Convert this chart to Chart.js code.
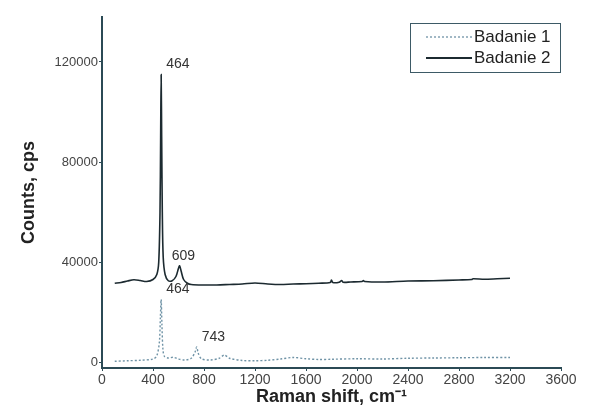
<!DOCTYPE html>
<html>
<head>
<meta charset="utf-8">
<script src="https://cdn.jsdelivr.net/npm/chart.js@4"></script>
<style>
  html, body { margin: 0; padding: 0; background: #fff; }
  #wrap { width: 589px; height: 412px; }
</style>
</head>
<body>
<div id="wrap"><canvas id="widmo"></canvas></div>
<script>
// Badanie 2 (upper, solid)
var x2 = [100, 150, 200, 250, 300, 350, 400, 430, 445, 455, 460, 464, 468, 473, 480, 495, 520, 550, 580, 600, 609, 620, 640, 670, 700,
  800, 900, 1000, 1100, 1200, 1300, 1400, 1500, 1600, 1700, 1790, 1800, 1810, 1860, 1880, 1890, 1950, 2040, 2050, 2060, 2200,
  2400, 2600, 2800, 2900, 2910, 3000, 3100, 3200];
var y2 = [31500, 31800, 32400, 32900, 32600, 32200, 33000, 35000, 40000, 60000, 90000, 115000, 90000, 60000, 42000, 35000, 32500, 32500, 34200, 37500, 38500, 36500, 33000, 31500, 31000,
  30800, 30800, 31000, 31200, 31600, 31200, 31000, 31200, 31300, 31500, 31800, 32800, 31800, 31900, 32600, 31900, 32000, 32200, 32600, 32200, 32000,
  32400, 32500, 32800, 33000, 33300, 33100, 33300, 33500];

// Badanie 1 (lower, dotted)
var x1 = [100, 200, 300, 400, 430, 450, 458, 464, 470, 478, 490, 520, 560, 600, 650, 700, 730, 743, 755, 780, 850, 920, 960, 1000,
  1100, 1200, 1300, 1400, 1500, 1600, 1700, 1800, 2000, 2200, 2400, 2600, 2800, 3000, 3200];
var y1 = [300, 500, 700, 1200, 2500, 8000, 18000, 25000, 15000, 5000, 2200, 1600, 1900, 1200, 800, 1500, 4000, 6000, 3500, 1300, 800, 1500, 2800, 1500,
  600, 500, 700, 1200, 1800, 1300, 1000, 1100, 1300, 1200, 1500, 1600, 1700, 1800, 1800];

var seriesNames = ["Badanie 1", "Badanie 2"];
var yTicks = [0, 40000, 80000, 120000];

// peak labels
var peakX = [464, 609, 464, 743];
var peakY = [115000, 38500, 25000, 6000];
var peakText = ["464", "609", "464", "743"];

function pts(xs, ys) {
  return xs.map(function (v, i) { return { x: v, y: ys[i] }; });
}

var peakLabels = {
  id: 'peakLabels',
  afterDatasetsDraw: function (chart) {
    var ctx = chart.ctx, xs = chart.scales.x, ys = chart.scales.y;
    ctx.save();
    ctx.font = '14px Arial, "Liberation Sans", sans-serif';
    ctx.fillStyle = '#333';
    ctx.textAlign = 'left';
    ctx.textBaseline = 'bottom';
    for (var i = 0; i < peakX.length; i++) {
      var px = xs.getPixelForValue(peakX[i]);
      var py = ys.getPixelForValue(peakY[i]);
      var dx = peakText[i] === '609' ? -8 : 5;
      ctx.fillText(peakText[i], px + dx, py - 3);
    }
    ctx.restore();
  }
};

var boxLegend = {
  id: 'boxLegend',
  afterDraw: function (chart) {
    var ctx = chart.ctx, a = chart.chartArea;
    var w = 150, h = 49;
    var left = a.right - w - 1, top = a.top + 6;
    ctx.save();
    ctx.strokeStyle = '#3d5a66';
    ctx.lineWidth = 1;
    ctx.strokeRect(left + 0.5, top + 0.5, w, h);
    ctx.font = '17px Arial, "Liberation Sans", sans-serif';
    ctx.textBaseline = 'middle';
    ctx.fillStyle = '#222';
    chart.data.datasets.forEach(function (ds, i) {
      var yy = top + 14 + i * 21;
      ctx.beginPath();
      ctx.strokeStyle = ds.borderColor;
      ctx.lineWidth = i === 0 ? 1.3 : 2;
      ctx.setLineDash(ds.borderDash || []);
      ctx.moveTo(left + 16, yy);
      ctx.lineTo(left + 62, yy);
      ctx.stroke();
      ctx.setLineDash([]);
      ctx.fillText(ds.label, left + 64, yy);
    });
    ctx.restore();
  }
};

new Chart("widmo", {
  type: "line",
  data: {
    datasets: [{
      label: seriesNames[0],
      data: pts(x1, y1),
      borderColor: "#6f93a6",
      borderWidth: 1.4,
      borderDash: [2, 2],
      pointRadius: 0,
      tension: 0.3
    }, {
      label: seriesNames[1],
      data: pts(x2, y2),
      borderColor: "#1c2a30",
      borderWidth: 1.6,
      pointRadius: 0,
      tension: 0.3
    }]
  },
  options: {
    responsive: true,
    maintainAspectRatio: false,
    animation: false,
    layout: { padding: { left: 14, right: 28, top: 17, bottom: 0 } },
    plugins: { legend: { display: false }, tooltip: { enabled: false } },
    scales: {
      x: {
        type: "linear",
        min: 0, max: 3600,
        ticks: { stepSize: 400, padding: 1, color: "#444", font: { size: 14, family: "Arial" }, maxRotation: 0,
          callback: function (v) { return v; } },
        grid: { drawOnChartArea: false, tickLength: 3, color: "#2b4a55" },
        border: { color: "#2b4a55", width: 2 },
        title: { display: true, text: "Raman shift, cm\u207B\u00B9", color: "#222",
          font: { size: 18, weight: "bold", family: "Arial" }, padding: { top: 2, bottom: 4 } },
        afterFit: function (s) { s.height = 44; }
      },
      y: {
        min: -2400, max: 138000,
        afterBuildTicks: function (s) { s.ticks = yTicks.map(function (v) { return { value: v }; }); },
        ticks: { padding: 1, color: "#444", font: { size: 13, family: "Arial" },
          callback: function (v) { return v; } },
        grid: { drawOnChartArea: false, tickLength: 3, color: "#2b4a55" },
        border: { color: "#2b4a55", width: 2 },
        title: { display: true, text: "Counts, cps", color: "#222",
          font: { size: 18, weight: "bold", family: "Arial" }, padding: { top: 4, bottom: 4 } },
        afterFit: function (s) { s.width = 88; }
      }
    }
  },
  plugins: [peakLabels, boxLegend]
});
</script>
</body>
</html>
